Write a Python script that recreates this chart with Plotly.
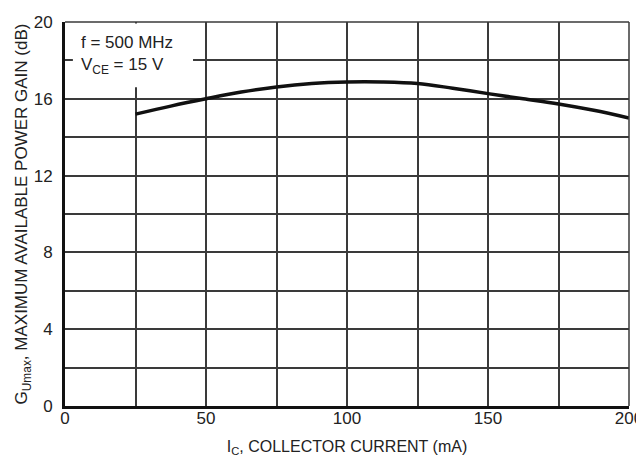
import plotly.graph_objects as go

# Data
ic_ma = [25, 37.5, 50, 62.5, 75, 87.5, 100, 112.5, 125, 137.5, 150, 162.5, 175, 187.5, 200]
gain_db = [15.2, 15.62, 16.0, 16.35, 16.62, 16.8, 16.88, 16.88, 16.8, 16.55, 16.27, 16.0, 15.73, 15.4, 15.0]

x_ticks = [0, 50, 100, 150, 200]
y_ticks = [0, 4, 8, 12, 16, 20]

FONT = "Liberation Sans Narrow, Arial Narrow, Liberation Sans, Arial, sans-serif"
GRID = "#3a3a3a"

fig = go.Figure()
fig.add_trace(go.Scatter(
    x=ic_ma, y=gain_db, mode="lines",
    line=dict(color="#111", width=3.5, shape="spline"),
    showlegend=False, hoverinfo="skip",
))

# page body has an 8px default margin, so the figure is sized to fit the window
fig.update_layout(
    width=636, height=459,
    margin=dict(l=57, r=15, t=14, b=61),
    paper_bgcolor="white", plot_bgcolor="white",
    font=dict(family=FONT, size=17, color="#222"),
    xaxis=dict(
        range=[0, 200], tickvals=x_ticks, ticktext=[str(v) for v in x_ticks],
        showgrid=True, gridcolor=GRID, gridwidth=1.5,
        minor=dict(dtick=25, tick0=0, showgrid=True, gridcolor=GRID, gridwidth=1.5),
        showline=True, linecolor="#111", linewidth=3, zeroline=False,
        ticks="", ticklabelstandoff=-5, automargin=False, ticklabeloverflow="allow",
        title=dict(text="I<sub>C</sub>, COLLECTOR CURRENT (mA)", standoff=14,
                   font=dict(family=FONT, size=16, color="#222")),
    ),
    yaxis=dict(
        range=[0, 20], tickvals=y_ticks, ticktext=[str(v) for v in y_ticks],
        showgrid=True, gridcolor=GRID, gridwidth=1.5,
        minor=dict(dtick=2, tick0=0, showgrid=True, gridcolor=GRID, gridwidth=1.5),
        showline=True, linecolor="#111", linewidth=3, zeroline=False,
        ticks="", ticklabelstandoff=6, automargin=False, ticklabeloverflow="allow",
        title=dict(text="G<sub>Umax</sub>, MAXIMUM AVAILABLE POWER GAIN (dB)", standoff=2,
                   font=dict(family=FONT, size=17, color="#222")),
    ),
    shapes=[
        # white background behind the condition label
        dict(type="rect", xref="x", yref="y", x0=2.8, x1=45.4, y0=16.6, y1=19.92,
             fillcolor="white", line=dict(width=0), layer="above"),
        # top and right frame edges
        dict(type="line", xref="paper", yref="paper", x0=0, x1=1, y0=1, y1=1,
             line=dict(color=GRID, width=1.5)),
        dict(type="line", xref="paper", yref="paper", x0=1, x1=1, y0=0, y1=1,
             line=dict(color=GRID, width=1.5)),
    ],
    annotations=[
        dict(xref="x", yref="y", x=5, y=19.55, xanchor="left", yanchor="top",
             text="f = 500 MHz<br>V<sub>CE</sub> = 15 V", showarrow=False, align="left",
             font=dict(family=FONT, size=17, color="#222")),
    ],
)

fig.write_html("out.html")
